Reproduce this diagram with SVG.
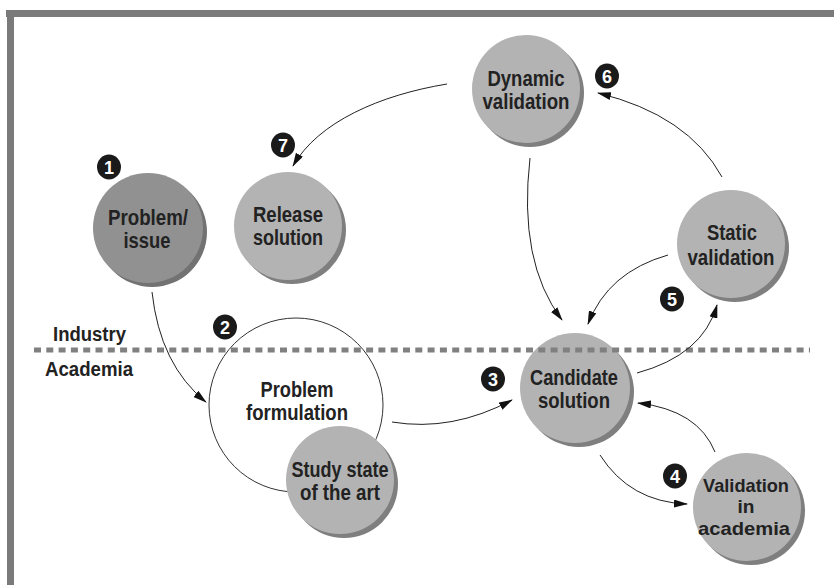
<svg xmlns="http://www.w3.org/2000/svg" width="834" height="585" viewBox="0 0 834 585">
<defs>
<marker id="ah" viewBox="0 0 14 8" refX="13" refY="4" markerWidth="14" markerHeight="8" markerUnits="userSpaceOnUse" orient="auto">
<path d="M0,0 L14,4 L0,8 Z" fill="#111"/>
</marker>
<style>
.sh{fill:#7f7f7f}
.nd{fill:#b3b3b3}
.nd1{fill:#919191}
.sh1{fill:#727272}
.t{font-family:"Liberation Sans",Arial,sans-serif;font-weight:bold;font-size:22px;fill:#222;text-anchor:middle}
.ts{font-size:19px}
.lb{font-family:"Liberation Sans",Arial,sans-serif;font-weight:bold;font-size:20px;fill:#222}
.bd{fill:#1a1a1a}
.bn{font-family:"Liberation Sans",Arial,sans-serif;font-weight:bold;font-size:18px;fill:#fff;text-anchor:middle}
.c{fill:none;stroke:#222;stroke-width:1}
</style>
</defs>
<rect width="834" height="585" fill="#fff"/>
<g id="frame">
<rect x="6" y="10" width="828" height="7" fill="#7a7a7a"/>
<rect x="7" y="10" width="7" height="575" fill="#7a7a7a"/>
</g>
<g id="problem-formulation">
<circle cx="296" cy="405" r="87" fill="#fff" stroke="#333" stroke-width="1"/>
<text class="t" x="297" y="397" textLength="73" lengthAdjust="spacingAndGlyphs">Problem</text>
<text class="t" x="297" y="420" textLength="102" lengthAdjust="spacingAndGlyphs">formulation</text>
</g>
<g id="study-state">
<circle class="sh" cx="344" cy="484" r="54"/>
<circle class="nd" cx="340" cy="480" r="54"/>
<text class="t" x="340" y="477" textLength="97" lengthAdjust="spacingAndGlyphs">Study state</text>
<text class="t" x="340" y="500" textLength="80" lengthAdjust="spacingAndGlyphs">of the art</text>
</g>
<g id="problem-issue">
<circle class="sh1" cx="152" cy="232" r="55"/>
<circle class="nd1" cx="148" cy="228" r="55"/>
<text class="t" x="148" y="225" textLength="80" lengthAdjust="spacingAndGlyphs">Problem/</text>
<text class="t" x="147" y="248" textLength="47" lengthAdjust="spacingAndGlyphs">issue</text>
</g>
<g id="release-solution">
<circle class="sh" cx="292" cy="230" r="54"/>
<circle class="nd" cx="288" cy="226" r="54"/>
<text class="t" x="288" y="222" textLength="70" lengthAdjust="spacingAndGlyphs">Release</text>
<text class="t" x="288" y="245" textLength="70" lengthAdjust="spacingAndGlyphs">solution</text>
</g>
<g id="dynamic-validation">
<circle class="sh" cx="530" cy="93" r="54"/>
<circle class="nd" cx="526" cy="89" r="54"/>
<text class="t" x="526" y="86" textLength="77" lengthAdjust="spacingAndGlyphs">Dynamic</text>
<text class="t" x="526" y="109" textLength="87" lengthAdjust="spacingAndGlyphs">validation</text>
</g>
<g id="static-validation">
<circle class="sh" cx="735" cy="248" r="54"/>
<circle class="nd" cx="731" cy="244" r="54"/>
<text class="t" x="732" y="240" textLength="50" lengthAdjust="spacingAndGlyphs">Static</text>
<text class="t" x="731" y="265" textLength="87" lengthAdjust="spacingAndGlyphs">validation</text>
</g>
<g id="candidate-solution">
<circle class="sh" cx="579" cy="392" r="55"/>
<circle class="nd" cx="575" cy="388" r="55"/>
<text class="t" x="574" y="385" textLength="88" lengthAdjust="spacingAndGlyphs">Candidate</text>
<text class="t" x="574" y="408" textLength="72" lengthAdjust="spacingAndGlyphs">solution</text>
</g>
<g id="validation-academia">
<circle class="sh" cx="751" cy="511" r="54"/>
<circle class="nd" cx="747" cy="507" r="54"/>
<text class="t ts" x="746" y="492" textLength="86" lengthAdjust="spacingAndGlyphs">Validation</text>
<text class="t ts" x="746" y="513" textLength="17" lengthAdjust="spacingAndGlyphs">in</text>
<text class="t ts" x="744" y="535" textLength="92" lengthAdjust="spacingAndGlyphs">academia</text>
</g>
<g id="divider">
<line x1="34" y1="350" x2="810" y2="350" stroke="#808080" stroke-width="5" stroke-dasharray="7,5.3"/>
<text class="lb" x="53" y="341" textLength="73" lengthAdjust="spacingAndGlyphs">Industry</text>
<text class="lb" x="45" y="376" textLength="88" lengthAdjust="spacingAndGlyphs">Academia</text>
</g>
<g id="badges">
<ellipse class="bd" cx="109" cy="167" rx="12" ry="12.5"/><text class="bn" x="109" y="174">1</text>
<ellipse class="bd" cx="225" cy="327" rx="12" ry="12.5"/><text class="bn" x="225" y="334">2</text>
<ellipse class="bd" cx="493" cy="379" rx="12" ry="12.5"/><text class="bn" x="493" y="386">3</text>
<ellipse class="bd" cx="675" cy="476" rx="12" ry="12.5"/><text class="bn" x="675" y="483">4</text>
<ellipse class="bd" cx="672" cy="299" rx="12" ry="12.5"/><text class="bn" x="672" y="306">5</text>
<ellipse class="bd" cx="607" cy="76" rx="12" ry="12.5"/><text class="bn" x="607" y="83">6</text>
<ellipse class="bd" cx="283" cy="145" rx="12" ry="12.5"/><text class="bn" x="283" y="152">7</text>
</g>
<g id="connectors">
<path class="c" marker-end="url(#ah)" d="M152,292 Q160,365 206,402"/>
<path class="c" marker-end="url(#ah)" d="M447,84 C380,95 318,122 293,166"/>
<path class="c" marker-end="url(#ah)" d="M530,158 Q518,262 562,320"/>
<path class="c" marker-end="url(#ah)" d="M668,255 Q608,272 588,324"/>
<path class="c" marker-end="url(#ah)" d="M722,177 Q688,115 598,93"/>
<path class="c" marker-end="url(#ah)" d="M637,373 Q703,355 717,305"/>
<path class="c" marker-end="url(#ah)" d="M392,422 Q452,432 512,400"/>
<path class="c" marker-end="url(#ah)" d="M715,452 Q698,410 638,403"/>
<path class="c" marker-end="url(#ah)" d="M600,455 Q630,502 687,504"/>
</g>
</svg>
